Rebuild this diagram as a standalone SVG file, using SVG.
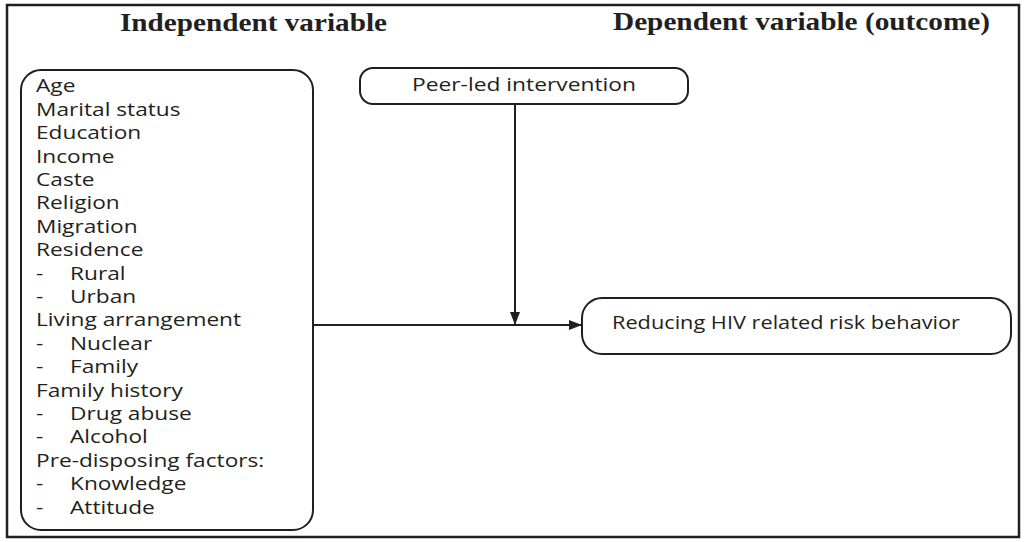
<svg xmlns="http://www.w3.org/2000/svg" width="1026" height="542" viewBox="0 0 1026 542">
  <style>
    .frame { fill: #ffffff; stroke: #231f20; stroke-width: 2.5; }
    .box { fill: #ffffff; stroke: #231f20; stroke-width: 2; }
    .head { font-family: "Liberation Serif", "Times New Roman", serif; font-weight: bold; font-size: 25px; fill: #231f20; }
    .lbl { font-family: "Open Sans", "Liberation Sans", sans-serif; font-size: 18px; fill: #231f20; }
    .wire { fill: none; stroke: #231f20; stroke-width: 2; }
  </style>
  <defs>
    <marker id="arrow" viewBox="0 0 13 10" refX="13" refY="5" markerWidth="13" markerHeight="10" markerUnits="userSpaceOnUse" orient="auto">
      <path d="M0,0 L13,5 L0,10 Z" fill="#231f20"/>
    </marker>
  </defs>

  <rect class="frame" x="7" y="5" width="1012" height="532"/>

  <text class="head" x="120" y="31" textLength="267" lengthAdjust="spacingAndGlyphs">Independent variable</text>
  <text class="head" x="613" y="30" textLength="377" lengthAdjust="spacingAndGlyphs">Dependent variable (outcome)</text>

  <g id="independent">
    <rect class="box" x="21" y="70" width="292" height="460" rx="20"/>
    <g class="lbl" transform="translate(36,0) scale(1.26,1)">
      <text x="0" y="92.5">Age</text>
      <text x="0" y="115.9">Marital status</text>
      <text x="0" y="139.3">Education</text>
      <text x="0" y="162.7">Income</text>
      <text x="0" y="186.1">Caste</text>
      <text x="0" y="209.5">Religion</text>
      <text x="0" y="232.9">Migration</text>
      <text x="0" y="256.3">Residence</text>
      <text x="0" y="279.7">-</text><text x="27" y="279.7">Rural</text>
      <text x="0" y="303.1">-</text><text x="27" y="303.1">Urban</text>
      <text x="0" y="326.5">Living arrangement</text>
      <text x="0" y="349.9">-</text><text x="27" y="349.9">Nuclear</text>
      <text x="0" y="373.3">-</text><text x="27" y="373.3">Family</text>
      <text x="0" y="396.7">Family history</text>
      <text x="0" y="420.1">-</text><text x="27" y="420.1">Drug abuse</text>
      <text x="0" y="443.5">-</text><text x="27" y="443.5">Alcohol</text>
      <text x="0" y="466.9">Pre-disposing factors:</text>
      <text x="0" y="490.3">-</text><text x="27" y="490.3">Knowledge</text>
      <text x="0" y="513.7">-</text><text x="27" y="513.7">Attitude</text>
    </g>
  </g>

  <g id="intervention">
    <rect class="box" x="360" y="68" width="328" height="36" rx="13"/>
    <text class="lbl" x="412" y="90.5" textLength="224" lengthAdjust="spacingAndGlyphs">Peer-led intervention</text>
  </g>

  <g id="outcome">
    <rect class="box" x="582" y="298" width="429" height="56" rx="20"/>
    <text class="lbl" x="612" y="328.5" textLength="348" lengthAdjust="spacingAndGlyphs">Reducing HIV related risk behavior</text>
  </g>

  <g id="connectors">
    <line class="wire" x1="515" y1="104" x2="515" y2="325" marker-end="url(#arrow)"/>
    <line class="wire" x1="313" y1="325" x2="582" y2="325" marker-end="url(#arrow)"/>
  </g>
</svg>
